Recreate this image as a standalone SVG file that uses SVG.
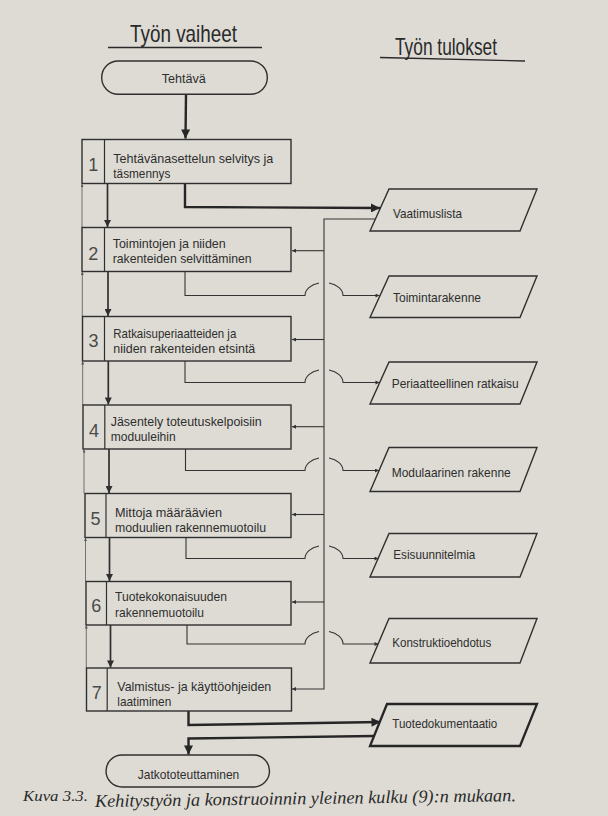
<svg xmlns="http://www.w3.org/2000/svg" width="608" height="816" viewBox="0 0 608 816">
<defs>
<style>
.bg{fill:#dddbd4}
.box{fill:#dddbd4;stroke:#2f2f2f;stroke-width:1.4}
.thickbox{fill:#dddbd4;stroke:#262626;stroke-width:2.3}
.div{stroke:#2f2f2f;stroke-width:1.2}
.t{font-family:"Liberation Sans",Arial,sans-serif;font-size:13.5px;fill:#2e2e2e}
.p{font-family:"Liberation Sans",Arial,sans-serif;font-size:13px;fill:#2e2e2e}
.num{font-family:"Liberation Sans",Arial,sans-serif;font-size:18px;fill:#4a4a4a;text-anchor:middle}
.h{font-family:"Liberation Sans",Arial,sans-serif;font-size:24px;fill:#2a2a2a}
.cap{font-family:"Liberation Serif","Times New Roman",serif;font-style:italic;fill:#2a2a2a}
.thick{fill:none;stroke:#262626;stroke-width:2.4}
.med{fill:none;stroke:#2f2f2f;stroke-width:1.7}
.thin{fill:none;stroke:#333;stroke-width:1.1}
.hair{fill:none;stroke:#555;stroke-width:0.8}
</style>
<marker id="aBig" viewBox="0 0 10 10" refX="10" refY="5" markerUnits="userSpaceOnUse" markerWidth="11" markerHeight="9" orient="auto"><path d="M0,0 L10,5 L0,10 z" fill="#262626"/></marker>
<marker id="aMed" viewBox="0 0 10 10" refX="10" refY="5" markerUnits="userSpaceOnUse" markerWidth="9" markerHeight="7" orient="auto"><path d="M0,0 L10,5 L0,10 z" fill="#2f2f2f"/></marker>
<marker id="aSm" viewBox="0 0 10 10" refX="10" refY="5" markerUnits="userSpaceOnUse" markerWidth="7" markerHeight="4" orient="auto"><path d="M0,0 L10,5 L0,10 z" fill="#333"/></marker>
<marker id="aTiny" viewBox="0 0 10 10" refX="10" refY="5" markerUnits="userSpaceOnUse" markerWidth="4" markerHeight="3" orient="auto"><path d="M0,0 L10,5 L0,10 z" fill="#555"/></marker>
</defs>
<rect class="bg" x="0" y="0" width="608" height="816"/>

<g id="headers">
<text class="h" x="130" y="41.7" textLength="107" lengthAdjust="spacingAndGlyphs">Työn vaiheet</text>
<line x1="108" y1="47.5" x2="262" y2="47.5" stroke="#2a2a2a" stroke-width="1.4"/>
<text class="h" x="395" y="55" textLength="102" lengthAdjust="spacingAndGlyphs">Työn tulokset</text>
<line x1="380" y1="57.5" x2="525" y2="61" stroke="#2a2a2a" stroke-width="1.4"/>
</g>

<g id="connectors">
<path class="thick" d="M186,94.5 L185.5,138.5" marker-end="url(#aBig)"/>
<path class="thick" d="M185,183.5 L185,207 L380,208" marker-end="url(#aBig)"/>
<path class="med" d="M107.5,183.5 L107.5,227" marker-end="url(#aMed)"/>
<path class="med" d="M108,271.5 L108,316" marker-end="url(#aMed)"/>
<path class="med" d="M108.3,361 L108.3,404.5" marker-end="url(#aMed)"/>
<path class="med" d="M109,449 L109,493" marker-end="url(#aMed)"/>
<path class="med" d="M109.5,537.5 L109.5,581" marker-end="url(#aMed)"/>
<path class="med" d="M110.5,625 L110.5,667.5" marker-end="url(#aMed)"/>
<path class="thin" d="M375,219 L324,219 L324,689 L292,689" marker-end="url(#aSm)"/>
<path class="thin" d="M324,250.7 L292,250.7" marker-end="url(#aSm)"/>
<path class="thin" d="M324,339.5 L292,339.5" marker-end="url(#aSm)"/>
<path class="thin" d="M324,426.7 L292,426.7" marker-end="url(#aSm)"/>
<path class="thin" d="M324,514.5 L292,514.5" marker-end="url(#aSm)"/>
<path class="thin" d="M324,602 L292,602" marker-end="url(#aSm)"/>
<path class="thin" d="M185,271.5 L185,295.5 L305,295.5 A19,13 0 0 1 319,282.96 M329,282.96 A19,13 0 0 1 343,295.5 L379.5,295.5" marker-end="url(#aSm)"/>
<path class="thin" d="M185,361 L185,382.5 L305,382.5 A19,13 0 0 1 319,369.96 M329,369.96 A19,13 0 0 1 343,382.5 L379.5,382.5" marker-end="url(#aSm)"/>
<path class="thin" d="M185.5,449 L185.5,470.5 L305,470.5 A19,13 0 0 1 319,457.96 M329,457.96 A19,13 0 0 1 343,470.5 L379,470.5" marker-end="url(#aSm)"/>
<path class="thin" d="M186,537.5 L186,558.5 L305,558.5 A19,13 0 0 1 319,545.96 M329,545.96 A19,13 0 0 1 343,558.5 L378.5,558.5" marker-end="url(#aSm)"/>
<path class="thin" d="M187,625 L187,644 L305,644 A19,13 0 0 1 319,631.46 M329,631.46 A19,13 0 0 1 343,644 L378.5,644" marker-end="url(#aSm)"/>
<path class="thick" d="M188.5,711 L188.5,725 L380.5,722" marker-end="url(#aBig)"/>
<path class="thick" d="M374,736 L188.5,738.5 L188.5,754.5" marker-end="url(#aBig)"/>
<path class="hair" d="M82,227.5 L82,184" marker-end="url(#aTiny)"/>
<path class="hair" d="M82.3,316.5 L82.3,272" marker-end="url(#aTiny)"/>
<path class="hair" d="M82.7,405 L82.7,361.5" marker-end="url(#aTiny)"/>
<path class="hair" d="M84,493.5 L84,449.5" marker-end="url(#aTiny)"/>
<path class="hair" d="M85.5,581.5 L85.5,538" marker-end="url(#aTiny)"/>
<path class="hair" d="M86.3,668 L86.3,625.5" marker-end="url(#aTiny)"/>
</g>

<g id="n-tehtava">
<rect class="box" x="101.7" y="61" width="165.6" height="33.3" rx="16.5"/>
<text class="t" x="161.7" y="83.3" textLength="44" lengthAdjust="spacingAndGlyphs">Tehtävä</text>
</g>

<g id="n1">
<rect class="box" x="82" y="139.5" width="209" height="44"/>
<line class="div" x1="104.5" y1="139.5" x2="104.5" y2="183.5"/>
<text class="num" x="93.3" y="171">1</text>
<text class="t" x="113.3" y="163.3" textLength="160" lengthAdjust="spacingAndGlyphs">Tehtävänasettelun selvitys ja</text>
<text class="t" x="113.3" y="178" textLength="57" lengthAdjust="spacingAndGlyphs">täsmennys</text>
</g>

<g id="n2">
<rect class="box" x="82" y="227.5" width="209" height="44"/>
<line class="div" x1="104.5" y1="227.5" x2="104.5" y2="271.5"/>
<text class="num" x="93.3" y="259.5">2</text>
<text class="t" x="112.7" y="248" textLength="113" lengthAdjust="spacingAndGlyphs">Toimintojen ja niiden</text>
<text class="t" x="112.7" y="263" textLength="139" lengthAdjust="spacingAndGlyphs">rakenteiden selvittäminen</text>
</g>

<g id="n3">
<rect class="box" x="82.5" y="316.5" width="208.5" height="44.5"/>
<line class="div" x1="104.5" y1="316.5" x2="104.5" y2="361"/>
<text class="num" x="93.5" y="346.5">3</text>
<text class="t" x="113.3" y="338" textLength="123" lengthAdjust="spacingAndGlyphs">Ratkaisuperiaatteiden ja</text>
<text class="t" x="113.3" y="353" textLength="142" lengthAdjust="spacingAndGlyphs">niiden rakenteiden etsintä</text>
</g>

<g id="n4">
<rect class="box" x="83" y="405" width="208" height="44"/>
<line class="div" x1="104.8" y1="405" x2="104.8" y2="449"/>
<text class="num" x="94" y="436.5">4</text>
<text class="t" x="110.7" y="426" textLength="151" lengthAdjust="spacingAndGlyphs">Jäsentely toteutuskelpoisiin</text>
<text class="t" x="110.7" y="440.5" textLength="65" lengthAdjust="spacingAndGlyphs">moduuleihin</text>
</g>

<g id="n5">
<rect class="box" x="85" y="493.5" width="206" height="44"/>
<line class="div" x1="106" y1="493.5" x2="106" y2="537.5"/>
<text class="num" x="95.5" y="525">5</text>
<text class="t" x="115" y="516.7" textLength="107" lengthAdjust="spacingAndGlyphs">Mittoja määräävien</text>
<text class="t" x="115" y="531.7" textLength="151" lengthAdjust="spacingAndGlyphs">moduulien rakennemuotoilu</text>
</g>

<g id="n6">
<rect class="box" x="86" y="581.5" width="205" height="43.5"/>
<line class="div" x1="106.5" y1="581.5" x2="106.5" y2="625"/>
<text class="num" x="96.3" y="611.7">6</text>
<text class="t" x="115" y="600.7" textLength="112" lengthAdjust="spacingAndGlyphs">Tuotekokonaisuuden</text>
<text class="t" x="115" y="616.5" textLength="89" lengthAdjust="spacingAndGlyphs">rakennemuotoilu</text>
</g>

<g id="n7">
<rect class="box" x="86.5" y="668" width="205" height="43"/>
<line class="div" x1="107.2" y1="668" x2="107.2" y2="711"/>
<text class="num" x="96.8" y="699">7</text>
<text class="t" x="117.3" y="691" textLength="154" lengthAdjust="spacingAndGlyphs">Valmistus- ja käyttöohjeiden</text>
<text class="t" x="117.3" y="706" textLength="54" lengthAdjust="spacingAndGlyphs">laatiminen</text>
</g>

<g id="n-jatko">
<rect class="box" x="106" y="755" width="163.5" height="32" rx="16"/>
<text class="t" x="137.7" y="779.3" textLength="101.6" lengthAdjust="spacingAndGlyphs">Jatkototeuttaminen</text>
</g>

<g id="r-vaatimuslista">
<polygon class="box" points="389,189 537,189 520,231 370,231"/>
<text class="p" x="393" y="217.5" textLength="69" lengthAdjust="spacingAndGlyphs">Vaatimuslista</text>
</g>
<g id="r-toimintarakenne">
<polygon class="box" points="389,276 537,276 520,317.5 370,317.5"/>
<text class="p" x="393" y="301.7" textLength="88" lengthAdjust="spacingAndGlyphs">Toimintarakenne</text>
</g>
<g id="r-periaatteellinen">
<polygon class="box" points="389,362 537,362 520,404 370,404"/>
<text class="p" x="391.7" y="388.3" textLength="127" lengthAdjust="spacingAndGlyphs">Periaatteellinen ratkaisu</text>
</g>
<g id="r-modulaarinen">
<polygon class="box" points="389,447.5 537,447.5 520,491.5 370,491.5"/>
<text class="p" x="391.7" y="476.7" textLength="119" lengthAdjust="spacingAndGlyphs">Modulaarinen rakenne</text>
</g>
<g id="r-esisuunnitelmia">
<polygon class="box" points="389,533.5 537,533.5 520,577 370,577"/>
<text class="p" x="393.3" y="559" textLength="82" lengthAdjust="spacingAndGlyphs">Esisuunnitelmia</text>
</g>
<g id="r-konstruktioehdotus">
<polygon class="box" points="389,618.5 537,618.5 520,663 370,663"/>
<text class="p" x="392.3" y="647" textLength="99" lengthAdjust="spacingAndGlyphs">Konstruktioehdotus</text>
</g>
<g id="r-tuotedokumentaatio">
<polygon class="thickbox" points="387,704 537,704 520,746 370,746"/>
<text class="p" x="392.3" y="728.3" textLength="105" lengthAdjust="spacingAndGlyphs">Tuotedokumentaatio</text>
</g>

<g id="caption">
<text class="cap" x="23" y="801" font-size="15" textLength="65" lengthAdjust="spacingAndGlyphs">Kuva 3.3.</text>
<text class="cap" x="95" y="807" font-size="18" textLength="421" lengthAdjust="spacingAndGlyphs" transform="rotate(-0.8 95 807)">Kehitystyön ja konstruoinnin yleinen kulku (9):n mukaan.</text>
</g>
</svg>
